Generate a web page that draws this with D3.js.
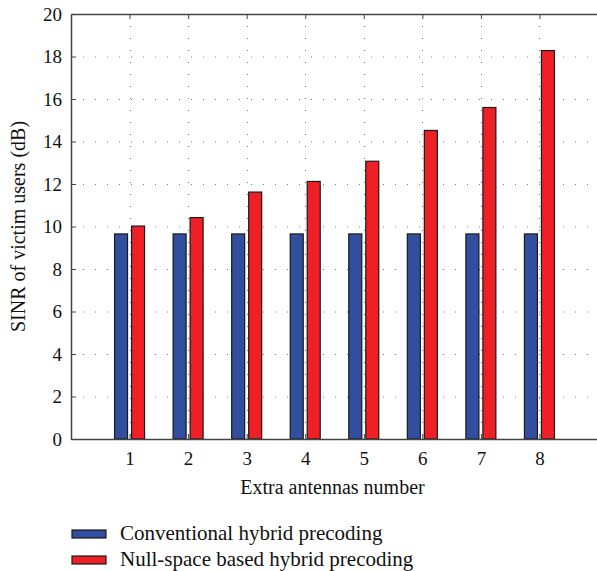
<!DOCTYPE html>
<html>
<head>
<meta charset="utf-8">
<script src="https://cdn.jsdelivr.net/npm/d3@7"></script>
<style>
  body { margin: 0; background: #fff; }
  svg { display: block; font-family: "Liberation Serif", "DejaVu Serif", serif; }
</style>
</head>
<body>
<div id="chart"></div>
<script>
const antennas = [1, 2, 3, 4, 5, 6, 7, 8];
const conventional = [9.65, 9.65, 9.65, 9.65, 9.65, 9.65, 9.65, 9.65];
const nullSpace = [10.02, 10.42, 11.62, 12.12, 13.07, 14.52, 15.6, 18.28];
const yTicks = [0, 2, 4, 6, 8, 10, 12, 14, 16, 18, 20];
const seriesNames = ['Conventional hybrid precoding', 'Null-space based hybrid precoding'];
const colors = ['#324e9e', '#ee2026'];

const width = 597, height = 571;
const margin = { top: 14, right: -1, bottom: 132, left: 71 };

const svg = d3.select('#chart').append('svg')
  .attr('width', width)
  .attr('height', height);

const x = d3.scaleLinear()
  .domain([0, 9])
  .range([margin.left, width - margin.right]);

const y = d3.scaleLinear()
  .domain([0, 20])
  .range([height - margin.bottom, margin.top]);

// grid
const grid = svg.append('g')
  .attr('stroke', '#777')
  .attr('stroke-width', 1)
  .attr('stroke-dasharray', '1,11');
grid.selectAll('.hg')
  .data(yTicks.slice(1, -1))
  .join('line')
  .attr('x1', x(0)).attr('x2', x(9))
  .attr('y1', d => y(d) + 0.5).attr('y2', d => y(d) + 0.5);
grid.selectAll('.vg')
  .data(antennas)
  .join('line')
  .attr('x1', d => Math.round(x(d)) + 0.5).attr('x2', d => Math.round(x(d)) + 0.5)
  .attr('y1', y(20)).attr('y2', y(0));

// bars
const barW = 13, gap = 2;
const series = [conventional, nullSpace];
series.forEach((vals, s) => {
  svg.append('g')
    .selectAll('rect')
    .data(vals)
    .join('rect')
    .attr('x', (d, i) => s === 0 ? x(antennas[i]) - gap - barW : x(antennas[i]) + gap)
    .attr('y', d => y(d))
    .attr('width', barW)
    .attr('height', d => y(0) - y(d))
    .attr('fill', colors[s])
    .attr('stroke', '#1a1a1a')
    .attr('stroke-width', 1.2);
});

// axes
const axisColor = '#444';
const yAxis = svg.append('g')
  .attr('transform', `translate(${margin.left},0)`)
  .call(d3.axisLeft(y).tickValues(yTicks).tickSizeInner(-5).tickSizeOuter(0).tickPadding(9));
const xAxis = svg.append('g')
  .attr('transform', `translate(0,${y(0)})`)
  .call(d3.axisBottom(x).tickValues(antennas).tickSizeInner(-5).tickSizeOuter(0).tickPadding(13));
const topAxis = svg.append('g')
  .attr('transform', `translate(0,${y(20)})`)
  .call(d3.axisTop(x).tickValues(antennas).tickSizeInner(-5).tickSizeOuter(0).tickFormat(''));

[yAxis, xAxis, topAxis].forEach(g => {
  g.select('.domain').attr('stroke', axisColor).attr('stroke-width', 1.5);
  g.selectAll('.tick line').attr('stroke', axisColor);
  g.selectAll('.tick text')
    .attr('fill', '#111')
    .attr('font-size', '19px')
    .attr('font-family', '"Liberation Serif", serif');
});

// axis titles
svg.append('text')
  .attr('x', (x(0) + x(9)) / 2 - 2)
  .attr('y', 494)
  .attr('text-anchor', 'middle')
  .attr('font-size', '20px')
  .attr('fill', '#111')
  .text('Extra antennas number');

svg.append('text')
  .attr('transform', `translate(25,${(y(0) + y(20)) / 2}) rotate(-90)`)
  .attr('text-anchor', 'middle')
  .attr('font-size', '20px')
  .attr('fill', '#111')
  .text('SINR of victim users (dB)');

// legend
const legend = svg.append('g').attr('transform', 'translate(72,530)');
seriesNames.forEach((name, i) => {
  const row = legend.append('g').attr('transform', `translate(0,${i * 26})`);
  row.append('rect')
    .attr('width', 34).attr('height', 8)
    .attr('fill', colors[i])
    .attr('stroke', '#1a1a1a')
    .attr('stroke-width', 1.2);
  row.append('text')
    .attr('x', 48).attr('y', 10)
    .attr('font-size', '21px')
    .attr('fill', '#111')
    .text(name);
});
</script>
</body>
</html>
